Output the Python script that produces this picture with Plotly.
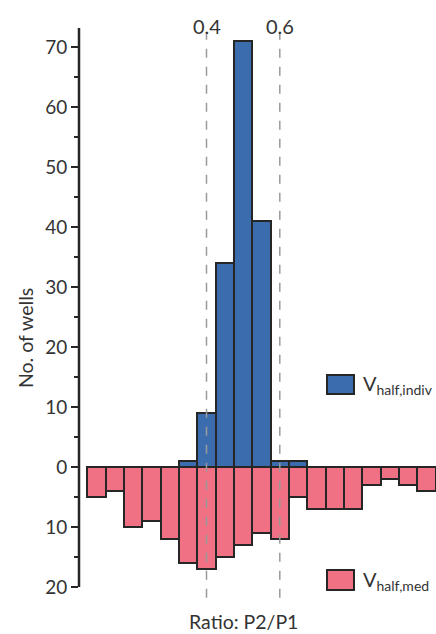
import plotly.graph_objects as go

# Data
bin_centers = [0.10, 0.15, 0.20, 0.25, 0.30, 0.35, 0.40, 0.45, 0.50, 0.55,
               0.60, 0.65, 0.70, 0.75, 0.80, 0.85, 0.90, 0.95, 1.00]
vhalf_indiv = [0, 0, 0, 0, 0, 1, 9, 34, 71, 41, 1, 1, 0, 0, 0, 0, 0, 0, 0]
vhalf_med = [5, 4, 10, 9, 12, 16, 17, 15, 13, 11, 12, 5, 7, 7, 7, 3, 2, 3, 4]
bin_width = 0.05
ref_lines = [0.4, 0.6]
y_tickvals = [-20, -10, 0, 10, 20, 30, 40, 50, 60, 70]
y_ticktext = ["20", "10", "0", "10", "20", "30", "40", "50", "60", "70"]
y_minor = [-15, -5, 5, 15, 25, 35, 45, 55, 65]

BLUE = "#3B6DAE"
PINK = "#F07183"
EDGE = "#262626"
TXT = "#333333"
FONT = "Lato"

fig = go.Figure()

fig.add_trace(go.Bar(
    x=bin_centers, y=[-v for v in vhalf_med], width=bin_width,
    marker=dict(color=PINK, line=dict(color=EDGE, width=2)),
    showlegend=False, hoverinfo="skip",
))
bx = [x for x, v in zip(bin_centers, vhalf_indiv) if v > 0]
by = [v for v in vhalf_indiv if v > 0]
fig.add_trace(go.Bar(
    x=bx, y=by, width=bin_width,
    marker=dict(color=BLUE, line=dict(color=EDGE, width=2)),
    showlegend=False, hoverinfo="skip",
))

x_range = [0.0521, 1.0262]
y_range = [-21.83, 73.17]

shapes = []
# y axis line
shapes.append(dict(type="line", xref="paper", yref="y", x0=0, x1=0,
                   y0=-20, y1=y_range[1], line=dict(color=EDGE, width=2.5)))
# reference dashed lines
for xv in ref_lines:
    shapes.append(dict(type="line", xref="x", yref="y", x0=xv, x1=xv,
                       y0=-21.8, y1=72.3, layer="above",
                       line=dict(color="#9a9a9a", width=1.5, dash="dash")))
# legend boxes
shapes.append(dict(type="rect", xref="paper", yref="paper",
                   x0=0.6947, x1=0.7703, y0=0.3579, y1=0.3912,
                   fillcolor=BLUE, line=dict(color=EDGE, width=2)))
shapes.append(dict(type="rect", xref="paper", yref="paper",
                   x0=0.6947, x1=0.7703, y0=0.014, y1=0.0491,
                   fillcolor=PINK, line=dict(color=EDGE, width=2)))

annotations = []
for xv in ref_lines:
    annotations.append(dict(x=xv, xref="x", y=1, yref="paper", text=f"{xv:.1f}",
                            showarrow=False, yanchor="middle", yshift=2,
                            font=dict(family=FONT, size=20, color=TXT)))
annotations.append(dict(x=0.7898, xref="paper", y=0.374, yref="paper",
                        text="V<sub>half,indiv</sub>", showarrow=False,
                        xanchor="left", yanchor="middle",
                        font=dict(family=FONT, size=20, color=TXT)))
annotations.append(dict(x=0.7898, xref="paper", y=0.031, yref="paper",
                        text="V<sub>half,med</sub>", showarrow=False,
                        xanchor="left", yanchor="middle",
                        font=dict(family=FONT, size=20, color=TXT)))
# axis titles
annotations.append(dict(x=(243 - 79) / 357, xref="paper", y=0, yref="paper",
                        text="Ratio: P2/P1", showarrow=False,
                        yanchor="middle", yshift=-23,
                        font=dict(family=FONT, size=19.5, color=TXT)))
annotations.append(dict(x=0, xref="paper", y=0.456, yref="paper",
                        text="No. of wells", showarrow=False, textangle=-90,
                        xanchor="center", yanchor="middle", xshift=-54,
                        font=dict(family=FONT, size=19.5, color=TXT)))

fig.update_layout(
    width=436, height=634,
    margin=dict(l=79, r=0, t=28, b=36),
    paper_bgcolor="white", plot_bgcolor="white",
    barmode="overlay", bargap=0,
    shapes=shapes, annotations=annotations,
    font=dict(family=FONT, color=TXT),
    xaxis=dict(range=x_range, showticklabels=False, ticks="", showgrid=False,
               zeroline=False, showline=False, fixedrange=True),
    yaxis=dict(range=y_range, tickmode="array", tickvals=y_tickvals,
               ticktext=y_ticktext, ticks="outside", ticklen=7, tickwidth=2,
               tickcolor=EDGE, showgrid=False, zeroline=False, showline=False,
               automargin=False, fixedrange=True,
               tickfont=dict(family=FONT, size=19, color=TXT),
               minor=dict(tickmode="array", tickvals=y_minor, ticks="outside",
                          ticklen=4, tickwidth=2, tickcolor=EDGE)),
)

fig.write_html(
    "out.html",
    config={"displayModeBar": False},
    post_script="document.body.style.margin='0';document.body.style.overflow='hidden';",
)
